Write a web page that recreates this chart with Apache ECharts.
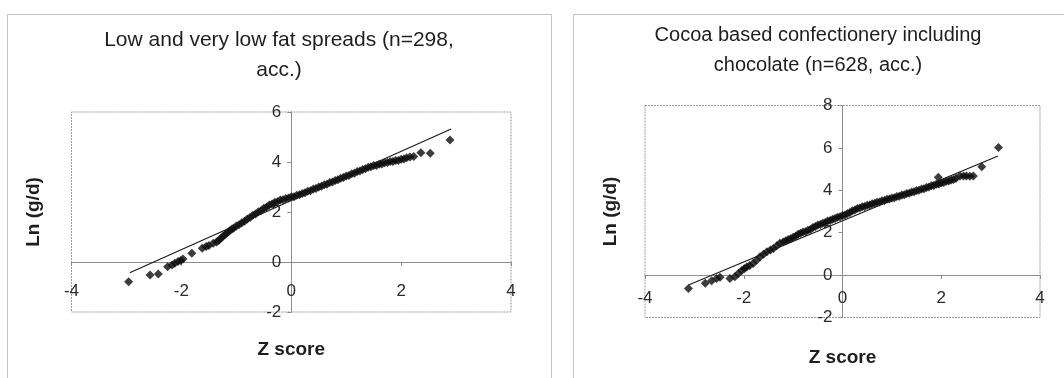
<!DOCTYPE html>
<html>
<head>
<meta charset="utf-8">
<script src="https://cdn.jsdelivr.net/npm/echarts@6/dist/echarts.min.js"></script>
<style>
html,body{margin:0;padding:0;background:#fff;}
#c{width:1064px;height:378px;}
</style>
</head>
<body>
<div id="c"></div>
<script>
// ---------- Data ----------
const leftTitle = ['Low and very low fat spreads (n=298,', 'acc.)'];
const rightTitle = ['Cocoa based confectionery including', 'chocolate (n=628, acc.)'];
const xName = 'Z score';
const yName = 'Ln (g/d)';

// Left panel: Z score vs Ln(g/d)
const leftZ = [
  -2.96, -2.57, -2.42, -2.25, -2.17, -2.12, -2.06, -2.01, -1.97, -1.81,
  -1.62, -1.55, -1.50, -1.42, -1.36, -1.32, -1.28, -1.24, -1.20, -1.16,
  -1.12, -1.08, -1.05, -1.00, -0.95, -0.90, -0.85, -0.80, -0.75, -0.70,
  -0.65, -0.60, -0.55, -0.50, -0.45, -0.40, -0.35, -0.30, -0.25, -0.20,
  -0.15, -0.10, -0.05, 0.00, 0.05, 0.10, 0.15, 0.20, 0.25, 0.30,
  0.35, 0.40, 0.45, 0.50, 0.55, 0.60, 0.65, 0.70, 0.75, 0.80,
  0.85, 0.90, 0.95, 1.00, 1.05, 1.10, 1.15, 1.20, 1.25, 1.30,
  1.35, 1.40, 1.45, 1.50, 1.55, 1.60, 1.65, 1.70, 1.75, 1.80,
  1.85, 1.90, 1.95, 2.00, 2.05, 2.10, 2.16, 2.23, 2.36, 2.53, 2.89
];
const leftLn = [
  -0.79, -0.52, -0.48, -0.19, -0.12, -0.05, 0.02, 0.06, 0.12, 0.35,
  0.55, 0.62, 0.66, 0.75, 0.80, 0.86, 0.95, 1.03, 1.10, 1.18,
  1.25, 1.32, 1.35, 1.44, 1.49, 1.57, 1.63, 1.72, 1.78, 1.87,
  1.92, 2.01, 2.05, 2.15, 2.19, 2.28, 2.32, 2.39, 2.41, 2.48,
  2.49, 2.54, 2.56, 2.61, 2.61, 2.67, 2.69, 2.74, 2.77, 2.83,
  2.85, 2.92, 2.94, 3.00, 3.03, 3.09, 3.11, 3.18, 3.20, 3.26,
  3.29, 3.35, 3.38, 3.44, 3.46, 3.53, 3.55, 3.62, 3.64, 3.70,
  3.73, 3.79, 3.81, 3.86, 3.86, 3.91, 3.92, 3.97, 3.98, 4.02,
  4.02, 4.06, 4.06, 4.11, 4.12, 4.17, 4.20, 4.22, 4.37, 4.35, 4.88
];
const leftLineZ = [-2.94, 2.91];
const leftLineLn = [-0.43, 5.32];

// Right panel: Z score vs Ln(g/d)
const rightZ = [
  -3.12, -2.78, -2.65, -2.55, -2.48, -2.28, -2.18, -2.11, -2.04, -1.99,
  -1.94, -1.88, -1.81, -1.74, -1.67, -1.60, -1.53, -1.46, -1.40, -1.33,
  -1.27, -1.20, -1.15, -1.10, -1.05, -1.00, -0.95, -0.90, -0.85, -0.80,
  -0.75, -0.70, -0.65, -0.60, -0.55, -0.50, -0.45, -0.40, -0.35, -0.30,
  -0.25, -0.20, -0.15, -0.10, -0.05, 0.00, 0.05, 0.10, 0.15, 0.20,
  0.25, 0.30, 0.35, 0.40, 0.45, 0.50, 0.55, 0.60, 0.65, 0.70,
  0.75, 0.80, 0.85, 0.90, 0.95, 1.00, 1.05, 1.10, 1.15, 1.20,
  1.25, 1.30, 1.35, 1.40, 1.45, 1.50, 1.55, 1.60, 1.65, 1.70,
  1.75, 1.80, 1.85, 1.90, 1.94, 1.95, 2.00, 2.05, 2.10, 2.15,
  2.20, 2.25, 2.30, 2.38, 2.45, 2.51, 2.58, 2.65, 2.82, 3.16
];
const rightLn = [
  -0.63, -0.39, -0.27, -0.16, -0.10, -0.16, -0.08, 0.08, 0.22, 0.30,
  0.38, 0.45, 0.55, 0.70, 0.86, 0.98, 1.10, 1.18, 1.26, 1.38,
  1.50, 1.56, 1.62, 1.68, 1.72, 1.79, 1.83, 1.93, 1.97, 2.03,
  2.05, 2.11, 2.15, 2.25, 2.29, 2.36, 2.39, 2.45, 2.48, 2.55,
  2.58, 2.64, 2.67, 2.73, 2.75, 2.81, 2.84, 2.91, 2.95, 3.03,
  3.07, 3.14, 3.16, 3.22, 3.24, 3.30, 3.31, 3.37, 3.39, 3.44,
  3.45, 3.51, 3.52, 3.58, 3.59, 3.64, 3.65, 3.71, 3.72, 3.78,
  3.79, 3.85, 3.86, 3.92, 3.93, 3.99, 4.00, 4.06, 4.07, 4.13,
  4.15, 4.21, 4.23, 4.29, 4.61, 4.30, 4.35, 4.37, 4.43, 4.44,
  4.49, 4.51, 4.57, 4.67, 4.68, 4.67, 4.66, 4.67, 5.11, 6.02
];
const rightLineZ = [-3.12, 3.15];
const rightLineLn = [-0.47, 5.62];

const xTicks = {min: -4, max: 4, interval: 2};
const leftYTicks = {min: -2, max: 6, interval: 2};
const rightYTicks = {min: -2, max: 8, interval: 2};

// ---------- Chart ----------
const FONT = '"Liberation Sans", Arial, sans-serif';
const zip = (a, b) => a.map((v, i) => [v, b[i]]);

const grids = [
  {left: 71.5, top: 112, width: 439.5, height: 200, outerBoundsMode: 'none', containLabel: false},
  {left: 645, top: 105.5, width: 395, height: 212, outerBoundsMode: 'none', containLabel: false}
];

// offsets that move each axis from the grid edge onto the other axis's zero
function zeroFrac(t) { return (0 - t.min) / (t.max - t.min); }

function xAxis(i, yt, margin, gap) {
  const g = grids[i];
  return {
    type: 'value', gridIndex: i, position: 'bottom',
    min: xTicks.min, max: xTicks.max, interval: xTicks.interval,
    offset: -g.height * zeroFrac(yt),
    axisLine: {show: true, onZero: false, lineStyle: {color: '#8c8c8c', width: 1}},
    axisTick: {show: true, length: 4, lineStyle: {color: '#8c8c8c'}},
    axisLabel: {margin: margin, fontSize: 17, color: '#2a2a2a', fontFamily: FONT},
    splitLine: {show: false},
    name: xName, nameLocation: 'middle', nameGap: gap, nameMoveOverlap: false,
    nameTextStyle: {fontWeight: 'bold', fontSize: 19, color: '#1e1e1e', fontFamily: FONT}
  };
}
function yAxis(i, t, gap) {
  const g = grids[i];
  return {
    type: 'value', gridIndex: i, position: 'left',
    min: t.min, max: t.max, interval: t.interval,
    offset: -g.width * zeroFrac(xTicks),
    axisLine: {show: true, onZero: false, lineStyle: {color: '#8c8c8c', width: 1}},
    axisTick: {show: true, length: 4, lineStyle: {color: '#8c8c8c'}},
    axisLabel: {margin: 10, fontSize: 17, color: '#2a2a2a', fontFamily: FONT},
    splitLine: {show: false},
    name: yName, nameLocation: 'middle', nameGap: gap, nameRotate: 90, nameMoveOverlap: false,
    nameTextStyle: {fontWeight: 'bold', fontSize: 19, color: '#1e1e1e', fontFamily: FONT}
  };
}

function scatter(i, z, v) {
  return {
    type: 'scatter', xAxisIndex: i, yAxisIndex: i, data: zip(z, v),
    symbol: 'diamond', symbolSize: 9,
    itemStyle: {color: '#0d0d0d'}, z: 3
  };
}
function fitLine(i, z, v) {
  return {
    type: 'line', xAxisIndex: i, yAxisIndex: i, data: zip(z, v),
    showSymbol: false, symbol: 'none',
    lineStyle: {color: '#1a1a1a', width: 1.2}, z: 4
  };
}

function titleText(lines, cx, y0, dy, size) {
  return lines.map((t, k) => ({
    type: 'text', x: cx, y: y0 + k * dy, silent: true,
    style: {text: t, fill: '#1e1e1e', font: size + 'px ' + FONT, textAlign: 'center', textVerticalAlign: 'middle'}
  }));
}

const graphic = [
  {type: 'rect', shape: {x: 7.5, y: 14.5, width: 544, height: 400}, style: {fill: 'none', stroke: '#c4c4c4', lineWidth: 1}, silent: true},
  {type: 'rect', shape: {x: 573.5, y: 14.5, width: 520, height: 400}, style: {fill: 'none', stroke: '#c4c4c4', lineWidth: 1}, silent: true},
  {type: 'rect', shape: {x: grids[0].left, y: grids[0].top, width: grids[0].width, height: grids[0].height}, style: {fill: 'none', stroke: '#9a9a9a', lineWidth: 1, lineDash: [2, 1]}, silent: true, z: -1},
  {type: 'rect', shape: {x: grids[1].left, y: grids[1].top, width: grids[1].width, height: grids[1].height}, style: {fill: 'none', stroke: '#9a9a9a', lineWidth: 1, lineDash: [2, 1]}, silent: true, z: -1}
].concat(titleText(leftTitle, 279, 40, 30, 21)).concat(titleText(rightTitle, 818, 35, 30, 20));

const chart = echarts.init(document.getElementById('c'), null, {renderer: 'canvas'});
chart.setOption({
  animation: false,
  backgroundColor: '#ffffff',
  grid: grids,
  xAxis: [xAxis(0, leftYTicks, 21, 78), xAxis(1, rightYTicks, 15, 73)],
  yAxis: [yAxis(0, leftYTicks, 248), yAxis(1, rightYTicks, 222)],
  series: [
    scatter(0, leftZ, leftLn), fitLine(0, leftLineZ, leftLineLn),
    scatter(1, rightZ, rightLn), fitLine(1, rightLineZ, rightLineLn)
  ],
  graphic: graphic
});
</script>
</body>
</html>
